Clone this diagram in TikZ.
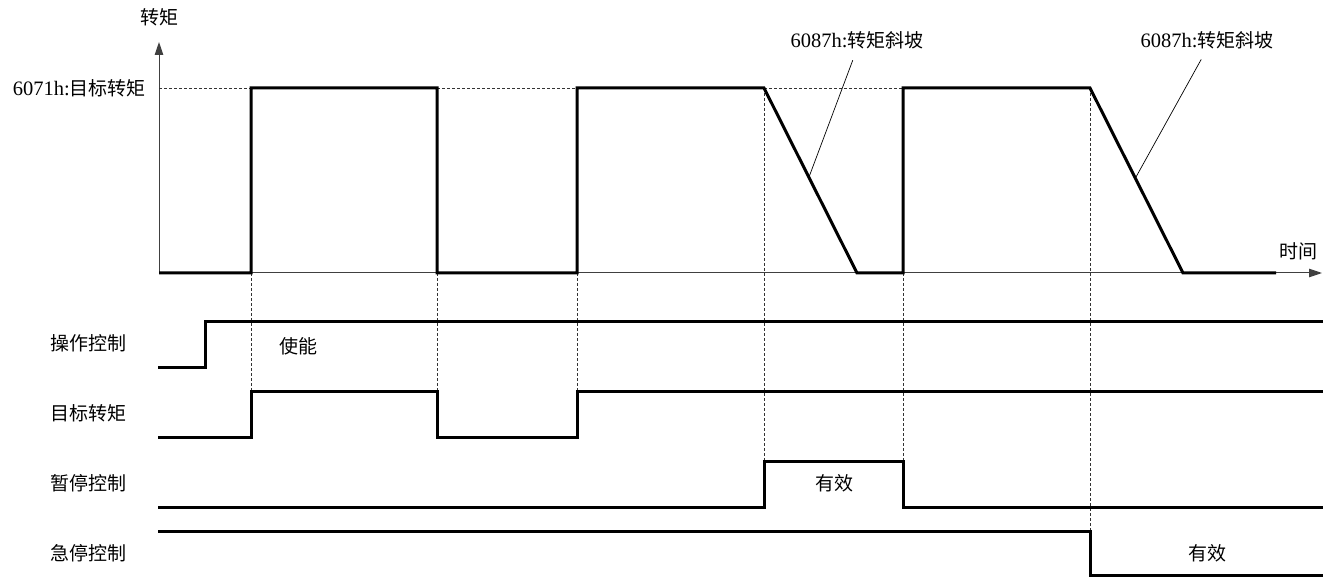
\documentclass[tikz,border=0pt]{standalone}
\usepackage{fontspec}
\setmainfont{Liberation Serif}
\newfontfamily\cjk{Noto Sans CJK SC}
\usepackage{tikz}
\usetikzlibrary{arrows.meta, positioning}

\begin{document}
\begin{tikzpicture}[
    x=1pt, y=-1pt,
    % ── Text styles ──
    lbl/.style={font=\fontsize{19}{21}\selectfont\cjk, inner sep=0pt},
    numlbl/.style={font=\fontsize{20.5}{22}\selectfont, inner sep=0pt},
    % ── Line styles ──
    axis/.style={line width=1pt, black!75, -{Triangle[length=13pt, width=8.5pt]}},
    sig/.style={line width=3pt, black, line join=miter},
    guide/.style={line width=0.6pt, black!80, dash pattern=on 3pt off 2pt},
    lead/.style={line width=0.7pt, black}
]
\useasboundingbox (0,0) rectangle (1330,577);

% ═══ Axes ═══
\coordinate (org)  at (159,273);
\coordinate (ytop) at (159,42);
\coordinate (xend) at (1322,273);
\draw[axis] (org) -- (ytop);
\draw[axis] (org) -- (xend);
\node[lbl]           (ylab) at (159,17)  {转矩};
\node[lbl]           (xlab) at (1298,251) {时间};
\node[numlbl, anchor=east] (tlev) at (146,88) {6071h:{\fontsize{19}{21}\selectfont\cjk 目标转矩}};

% ═══ Guide lines (dashed) ═══
\draw[guide] (org |- tlev) -- (251,88);
\draw[guide] (437,88) -- (577,88);
\draw[guide] (764,88) -- (903,88);
\draw[guide] (251,273) -- (251,391);
\draw[guide] (437,273) -- (437,391);
\draw[guide] (577,273) -- (577,391);
\draw[guide] (764,88)  -- (764,461);
\draw[guide] (903,273) -- (903,461);
\draw[guide] (1090,88) -- (1090,531);

% ═══ Torque curve ═══
\draw[sig] (159,273) -- (251,273) -- (251,88) -- (437,88) -- (437,273)
  -- (577,273) -- (577,88) -- (764,88) -- (857,273) -- (903,273)
  -- (903,88) -- (1090,88) -- (1183,273) -- (1276,273);

% ═══ Ramp annotations ═══
\coordinate (rmpA) at (809,177);
\coordinate (rmpB) at (1136,177);
\node[numlbl] (slopeA) at (857,40)  {6087h:{\fontsize{19}{21}\selectfont\cjk 转矩斜坡}};
\node[numlbl] (slopeB) at (1207,40) {6087h:{\fontsize{19}{21}\selectfont\cjk 转矩斜坡}};
\draw[lead, shorten <=12pt] (slopeA.south) -- (rmpA);
\draw[lead, shorten <=12pt] (slopeB.south) -- (rmpB);

% ═══ Control signals ═══
\node[lbl] (opctl)  at (88,343) {操作控制};
\node[lbl] (tgttq)  at (88,413) {目标转矩};
\node[lbl] (haltc)  at (88,483) {暂停控制};
\node[lbl] (qstop)  at (88,553) {急停控制};

\draw[sig] (158,367) -- (205,367) -- (205,321) -- (1323,321);
\draw[sig] (158,437) -- (251,437) -- (251,391) -- (437,391) -- (437,437)
  -- (577,437) -- (577,391) -- (1323,391);
\draw[sig] (158,507) -- (764,507) -- (764,461) -- (903,461) -- (903,507)
  -- (1323,507);
\draw[sig] (158,531) -- (1090,531) -- (1090,575.5) -- (1323,575.5);

% ═══ State texts ═══
\node[lbl] (enab)  at (298,346)  {使能};
\node[lbl] (actA)  at (834,483)  {有效};
\node[lbl] (actB)  at (1207,553) {有效};

\end{tikzpicture}
\end{document}
